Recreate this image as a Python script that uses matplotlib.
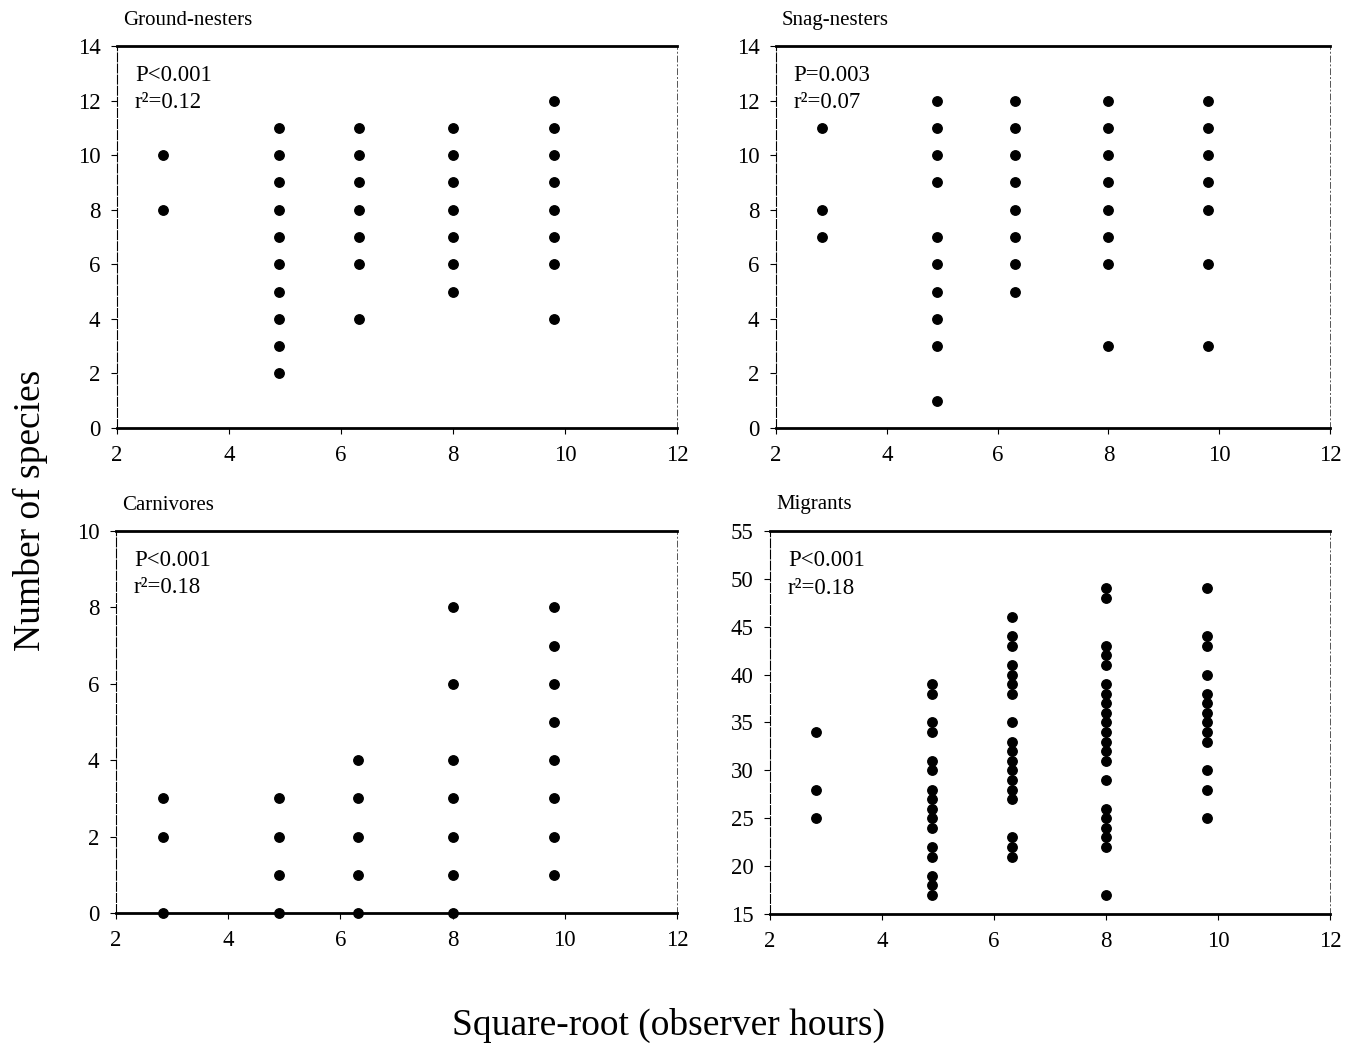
import matplotlib
matplotlib.use("Agg")
import matplotlib.pyplot as plt
import numpy as np

plt.rcParams['font.family'] = ['Liberation Serif', 'DejaVu Serif']

# x positions: square-root of observer hours
x_levels = [2.83, 4.90, 6.32, 8.00, 9.80]

ground_nesters = [
    [10, 8],
    [11, 10, 9, 8, 7, 6, 5, 4, 3, 2],
    [11, 10, 9, 8, 7, 6, 4],
    [11, 10, 9, 8, 7, 6, 5],
    [12, 11, 10, 9, 8, 7, 6, 4],
]
snag_nesters = [
    [11, 8, 7],
    [12, 11, 10, 9, 7, 6, 5, 4, 3, 1],
    [12, 11, 10, 9, 8, 7, 6, 5],
    [12, 11, 10, 9, 8, 7, 6, 3],
    [12, 11, 10, 9, 8, 6, 3],
]
carnivores = [
    [3, 2, 0],
    [3, 2, 1, 0],
    [4, 3, 2, 1, 0],
    [8, 6, 4, 3, 2, 1, 0],
    [8, 7, 6, 5, 4, 3, 2, 1],
]
migrants = [
    [34, 28, 25],
    [39, 38, 35, 34, 31, 30, 28, 27, 26, 25, 24, 22, 21, 19, 18, 17],
    [46, 44, 43, 41, 40, 39, 38, 35, 33, 32, 31, 30, 29, 28, 27, 23, 22, 21],
    [49, 48, 43, 42, 41, 39, 38, 37, 36, 35, 34, 33, 32, 31, 29, 26, 25, 24, 23, 22, 17],
    [49, 44, 43, 40, 38, 37, 36, 35, 34, 33, 30, 28, 25],
]

titles = ["Ground-nesters", "Snag-nesters", "Carnivores", "Migrants"]
p_texts = ["P<0.001", "P=0.003", "P<0.001", "P<0.001"]
r2_texts = ["r²=0.12", "r²=0.07", "r²=0.18", "r²=0.18"]
y_limits = [(0, 14), (0, 14), (0, 10), (15, 55)]
y_ticks = [np.arange(0, 15, 2), np.arange(0, 15, 2), np.arange(0, 11, 2), np.arange(15, 56, 5)]
x_ticks = [2, 4, 6, 8, 10, 12]
datasets = [ground_nesters, snag_nesters, carnivores, migrants]

W, H = 1362, 1049
fig = plt.figure(figsize=(W / 100, H / 100), dpi=100)

# panel boxes in pixels: left, right, top, bottom
boxes = [(117, 677, 46, 428), (776, 1330, 46, 428), (116, 677, 531, 913), (770, 1330, 531, 914)]

for i, (l, r, t, b) in enumerate(boxes):
    ax = fig.add_axes([l / W, 1 - b / H, (r - l) / W, (b - t) / H])
    data = datasets[i]
    for xv, ys in zip(x_levels, data):
        ax.plot([xv] * len(ys), ys, 'o', color='black', ms=6.8, mec='black', clip_on=False, zorder=3)
    ax.set_xlim(2, 12)
    ax.set_ylim(*y_limits[i])
    ax.set_xticks(x_ticks)
    ax.set_yticks(y_ticks[i])
    ax.tick_params(axis='both', direction='out', length=4, width=0.8, labelsize=16.5, pad=8)
    ax.spines['top'].set_linewidth(2.0)
    ax.spines['bottom'].set_linewidth(2.0)
    ax.spines['left'].set_linewidth(0.8)
    ax.spines['left'].set_linestyle((0, (8, 2)))
    ax.spines['right'].set_linewidth(0.7)
    ax.spines['right'].set_linestyle((0, (6, 3, 1, 3)))
    ax.spines['right'].set_color('#555555')
    ax.text(0.011, 1.068, titles[i], transform=ax.transAxes, fontsize=15, ha='left', va='center')
    ax.text(0.032, 0.924, p_texts[i], transform=ax.transAxes, fontsize=16.5, ha='left', va='center')
    ax.text(0.032, 0.851, r2_texts[i], transform=ax.transAxes, fontsize=16.5, ha='left', va='center')

fig.text(30 / W, 1 - 510 / H, "Number of species", rotation=90, fontsize=27, ha='center', va='center')
fig.text(668 / W, 1 - 1025 / H, "Square-root (observer hours)", fontsize=27, ha='center', va='center')

fig.savefig("out.png", dpi=100)
